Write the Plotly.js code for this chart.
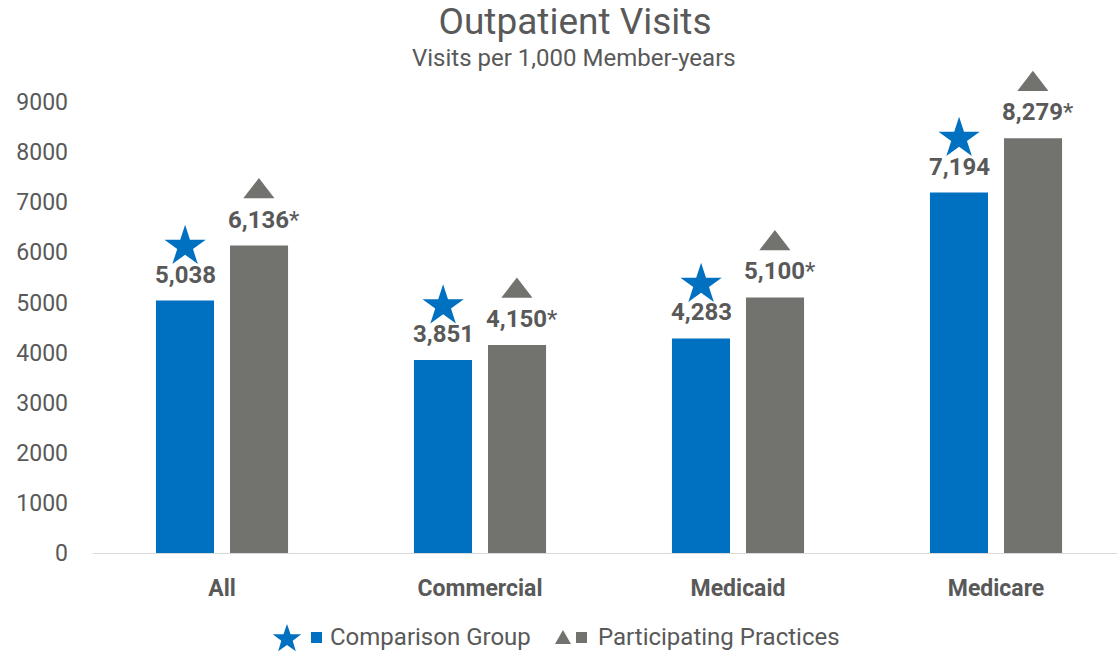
<!DOCTYPE html>
<html>
<head>
<meta charset="utf-8">
<script src="https://cdn.plot.ly/plotly-3.0.1.min.js"></script>
<style>html,body{margin:0;padding:0;background:#fff;}#chart{width:1117px;height:652px;}</style>
</head>
<body>
<div id="chart"></div>
<script>
const categories = ["All", "Commercial", "Medicaid", "Medicare"];
const comparison = [5038, 3851, 4283, 7194];
const participating = [6136, 4150, 5100, 8279];
const comparisonLabels = ["5,038", "3,851", "4,283", "7,194"];
const participatingLabels = ["6,136", "4,150", "5,100", "8,279"];
const significant = [true, true, true, true];
const seriesNames = ["Comparison Group", "Participating Practices"];

const BLUE = "#0070C0";
const GRAY = "#72726E";
const TXT = "#595959";
const FONT = "Roboto, 'Open Sans', sans-serif";

const W = 1117, H = 652;
const mL = 93, mR = 0, mB = 99;
const yTop = 9400, yTickMax = 9000;
const pxPer1000 = 50.11;
const plotH = yTop / 1000 * pxPer1000;
const mT = Math.round(H - mB - plotH);
const pxPerUnit = (H - mT - mB) / yTop;
const markerLift = 54 / pxPerUnit;

const plotW = W - mL - mR;
const px2paperX = px => (px - mL) / plotW;
const px2paperY = py => (H - mB - py) / (H - mT - mB);

const xIdx = categories.map((_, i) => i);
const barW = 0.225;

const traces = [
  {
    type: "bar", x: xIdx, y: comparison, name: seriesNames[0],
    width: barW, offset: -0.256, marker: {color: BLUE}, showlegend: false
  },
  {
    type: "bar", x: xIdx, y: participating, name: seriesNames[1],
    width: barW, offset: 0.031, marker: {color: GRAY}, showlegend: false
  },
  {
    type: "scatter", mode: "markers", x: xIdx.map(i => i - 0.143),
    y: comparison.map(v => v + markerLift), name: seriesNames[0],
    marker: {symbol: "star", size: 31, color: BLUE, line: {width: 0}},
    cliponaxis: false, hoverinfo: "skip", showlegend: false
  },
  {
    type: "scatter", mode: "markers", x: xIdx.map(i => i + 0.143),
    y: participating.map(v => v + markerLift), name: seriesNames[1],
    marker: {symbol: "triangle-up", size: 27, color: GRAY, line: {width: 0}},
    cliponaxis: false, hoverinfo: "skip", showlegend: false
  }
];

const labelFont = {family: FONT, size: 24, color: TXT};
const annotations = [];
xIdx.forEach(i => {
  annotations.push({
    x: i - 0.143, y: comparison[i], xref: "x", yref: "y",
    text: "<b>" + comparisonLabels[i] + "</b>", showarrow: false,
    yanchor: "bottom", yshift: 10, font: labelFont
  });
  annotations.push({
    x: i + 0.143, y: participating[i], xref: "x", yref: "y",
    text: "<b>" + participatingLabels[i] + "</b>" + (significant[i] ? "*" : ""),
    showarrow: false, xshift: 5,
    yanchor: "bottom", yshift: 10, font: labelFont
  });
});
// subtitle
annotations.push({
  xref: "paper", yref: "paper", x: px2paperX(574), y: px2paperY(58),
  text: "Visits per 1,000 Member-years", showarrow: false,
  xanchor: "center", yanchor: "middle",
  font: {family: FONT, size: 24, color: TXT}
});
// legend (custom, compact like the reference)
const legY = px2paperY(637);
annotations.push({xref: "paper", yref: "paper", x: px2paperX(328), y: legY,
  text: seriesNames[0], showarrow: false, xanchor: "left", yanchor: "middle",
  font: {family: FONT, size: 24, color: TXT}});
annotations.push({xref: "paper", yref: "paper", x: px2paperX(596), y: legY,
  text: seriesNames[1], showarrow: false, xanchor: "left", yanchor: "middle",
  font: {family: FONT, size: 24, color: TXT}});

function starPath(cx, cy, rOut, rIn) {
  const pts = [];
  for (let k = 0; k < 10; k++) {
    const r = k % 2 === 0 ? rOut : rIn;
    const a = -Math.PI / 2 + k * Math.PI / 5;
    pts.push([px2paperX(cx + r * Math.cos(a)), px2paperY(cy + r * Math.sin(a))]);
  }
  return "M" + pts.map(p => p[0].toFixed(5) + "," + p[1].toFixed(5)).join("L") + "Z";
}
function triPath(cx, cy, half, h) {
  const pts = [[cx, cy - h / 2], [cx + half, cy + h / 2], [cx - half, cy + h / 2]];
  return "M" + pts.map(p => px2paperX(p[0]).toFixed(5) + "," + px2paperY(p[1]).toFixed(5)).join("L") + "Z";
}

const shapes = [
  {type: "path", xref: "paper", yref: "paper", path: starPath(287, 639, 15, 6),
   fillcolor: BLUE, line: {width: 0}},
  {type: "rect", xref: "paper", yref: "paper", x0: px2paperX(311), x1: px2paperX(322),
   y0: px2paperY(643), y1: px2paperY(632), fillcolor: BLUE, line: {width: 0}},
  {type: "path", xref: "paper", yref: "paper", path: triPath(563, 637, 8, 14),
   fillcolor: GRAY, line: {width: 0}},
  {type: "rect", xref: "paper", yref: "paper", x0: px2paperX(576), x1: px2paperX(587),
   y0: px2paperY(643), y1: px2paperY(632), fillcolor: GRAY, line: {width: 0}}
];

const layout = {
  width: W, height: H,
  margin: {l: mL, r: mR, t: mT, b: mB},
  paper_bgcolor: "#fff", plot_bgcolor: "#fff",
  font: {family: FONT, color: TXT},
  title: {
    text: "Outpatient Visits", x: 575 / W, xanchor: "center",
    y: 1 - 21 / H, yanchor: "middle", yref: "container",
    font: {family: FONT, size: 37, color: TXT}
  },
  xaxis: {
    range: [-0.5, 3.469], tickvals: xIdx,
    ticktext: categories.map(c => "<b>" + c + "</b>"),
    tickfont: {family: FONT, size: 23, color: TXT},
    showgrid: false, zeroline: false, showline: true,
    linecolor: "#D9D9D9", linewidth: 1, ticks: "", ticklen: 0,
    ticklabelstandoff: 14
  },
  yaxis: {
    range: [0, yTop], tickvals: Array.from({length: yTickMax / 1000 + 1}, (_, k) => k * 1000),
    showgrid: false, zeroline: false, showline: false, ticks: "",
    tickfont: {family: FONT, size: 23, color: TXT}, ticklabelstandoff: 24
  },
  showlegend: false,
  annotations: annotations,
  shapes: shapes
};

Plotly.newPlot("chart", traces, layout, {displayModeBar: false, staticPlot: true});
</script>
</body>
</html>
